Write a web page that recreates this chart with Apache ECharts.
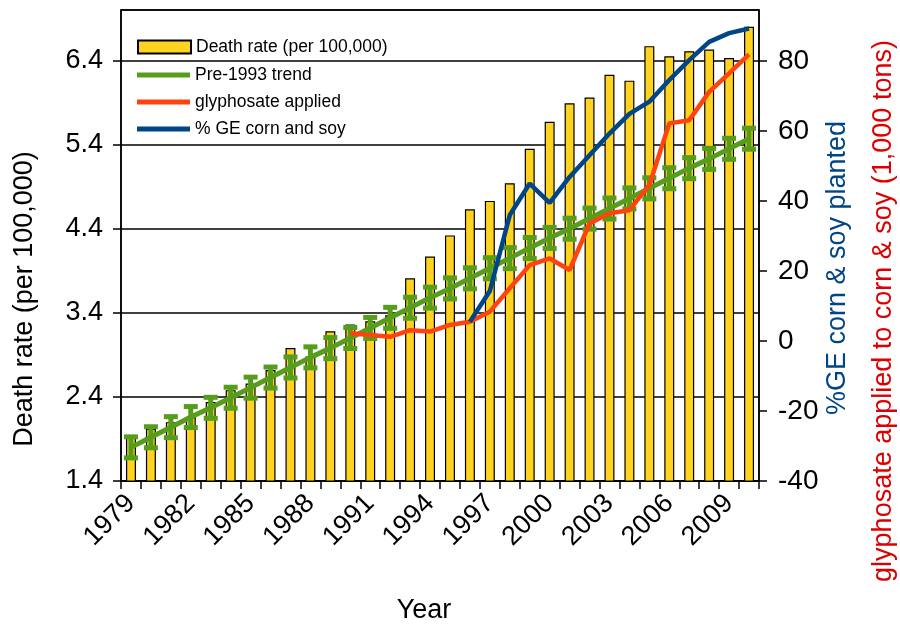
<!DOCTYPE html>
<html>
<head>
<meta charset="utf-8">
<script src="https://cdn.jsdelivr.net/npm/echarts@6/dist/echarts.min.js"></script>
<style>html,body{margin:0;padding:0;background:#fff}#c{width:900px;height:628px}</style>
</head>
<body>
<div id="c"></div>
<script>
const years = ['1979','1980','1981','1982','1983','1984','1985','1986','1987','1988','1989','1990','1991','1992','1993','1994','1995','1996','1997','1998','1999','2000','2001','2002','2003','2004','2005','2006','2007','2008','2009','2010'];
const deathRate = [1.93,2.02,2.10,2.16,2.34,2.48,2.56,2.72,2.98,2.88,3.18,3.26,3.30,3.37,3.81,4.07,4.32,4.63,4.73,4.94,5.35,5.67,5.89,5.96,6.23,6.16,6.57,6.45,6.51,6.53,6.43,6.80];
const trend = [1.80,1.92,2.04,2.16,2.27,2.39,2.51,2.63,2.75,2.87,2.98,3.10,3.22,3.34,3.46,3.58,3.69,3.81,3.93,4.05,4.17,4.29,4.40,4.52,4.64,4.76,4.88,5.00,5.12,5.23,5.35,5.47];
const trendErr = [0.125,0.125,0.125,0.125,0.125,0.125,0.125,0.125,0.125,0.125,0.125,0.125,0.125,0.125,0.125,0.125,0.125,0.125,0.125,0.125,0.125,0.125,0.125,0.125,0.125,0.125,0.125,0.125,0.125,0.125,0.125,0.125];
const glyphosate = [null,null,null,null,null,null,null,null,null,null,null,2.2,1.7,1.2,3.1,2.7,4.6,5.5,8.4,15.1,21.7,23.6,20.3,33.6,36.5,37.4,44.6,62.2,63.1,71.2,76.5,81.9];
const geCornSoy = [null,null,null,null,null,null,null,null,null,null,null,null,null,null,null,null,null,5.5,14.3,36.0,45.0,39.5,46.9,53.1,59.3,64.9,68.4,74.6,80.3,85.5,88.0,89.3];

const FONT = 'Liberation Sans, Arial, sans-serif';
const chart = echarts.init(document.getElementById('c'));
const errData = trend.map((v, i) => [i, v - trendErr[i], v + trendErr[i]]);

chart.setOption({
  animation: false,
  textStyle: { fontFamily: FONT },
  grid: { left: 121, right: 141, top: 10, bottom: 147, show: true, borderColor: '#000', borderWidth: 1.5 },
  legend: [
    { data: ['Death rate (per 100,000)'], orient: 'vertical', left: 132, top: 33, icon: 'rect', itemWidth: 53, itemHeight: 13,
      textStyle: { fontSize: 17.5, color: '#000', fontFamily: FONT } },
    { data: ['Pre-1993 trend', 'glyphosate applied', '% GE corn and soy'], orient: 'vertical', left: 132, top: 61,
      icon: 'rect', itemWidth: 53, itemHeight: 5, itemGap: 9,
      textStyle: { fontSize: 17.5, color: '#000', fontFamily: FONT } }
  ],
  xAxis: {
    type: 'category', data: years, boundaryGap: true,
    axisLine: { onZero: false, lineStyle: { color: '#000', width: 1.5 } },
    axisTick: { show: true, interval: 0, length: 8, lineStyle: { color: '#000', width: 1.5 } },
    axisLabel: { interval: 2, rotate: 45, fontSize: 27, color: '#000', margin: 18, fontFamily: FONT },
    splitLine: { show: false }
  },
  yAxis: [
    { type: 'value', min: 1.4, max: 7.0, interval: 1, position: 'left',
      axisLine: { show: true, lineStyle: { color: '#000', width: 1.5 } },
      axisTick: { show: true, length: 8, lineStyle: { color: '#000', width: 1.5 } },
      axisLabel: { fontSize: 27, color: '#000', margin: 18, showMaxLabel: false, formatter: v => v.toFixed(1), fontFamily: FONT },
      splitLine: { show: true, lineStyle: { color: '#000', width: 1.5 } } },
    { type: 'value', min: -40, max: 94.6, interval: 20, position: 'right',
      axisLine: { show: true, lineStyle: { color: '#000', width: 1.5 } },
      axisTick: { show: true, length: 8, lineStyle: { color: '#000', width: 1.5 } },
      axisLabel: { fontSize: 28, color: '#000', margin: 19, showMaxLabel: false, fontFamily: FONT },
      splitLine: { show: false } }
  ],
  graphic: [
    { type: 'text', x: 25, y: 299, rotation: Math.PI / 2, style: { text: 'Death rate (per 100,000)', font: '27px ' + FONT, fill: '#000', textAlign: 'center', textVerticalAlign: 'middle' } },
    { type: 'text', x: 424, y: 611, style: { text: 'Year', font: '27px ' + FONT, fill: '#000', textAlign: 'center', textVerticalAlign: 'middle' } },
    { type: 'text', x: 838, y: 268, rotation: Math.PI / 2, style: { text: '%GE corn & soy planted', font: '27px ' + FONT, fill: '#004586', textAlign: 'center', textVerticalAlign: 'middle' } },
    { type: 'text', x: 884, y: 311, rotation: Math.PI / 2, style: { text: 'glyphosate applied to corn & soy (1,000 tons)', font: '27px ' + FONT, fill: '#dd0000', textAlign: 'center', textVerticalAlign: 'middle' } }
  ],
  series: [
    { name: 'Death rate (per 100,000)', type: 'bar', yAxisIndex: 0, data: deathRate, barWidth: '50%',
      itemStyle: { color: '#ffd320', borderColor: '#000', borderWidth: 1.2 }, z: 1 },
    { name: 'Pre-1993 trend', type: 'line', yAxisIndex: 0, data: trend, symbol: 'none',
      lineStyle: { color: '#579d1c', width: 5 }, itemStyle: { color: '#579d1c' }, z: 3 },
    { name: 'Pre-1993 trend err', type: 'custom', yAxisIndex: 0, data: errData, z: 4,
      renderItem: function (params, api) {
        const x = api.value(0);
        const lo = api.coord([x, api.value(1)]);
        const hi = api.coord([x, api.value(2)]);
        const hw = 7;
        const st = { stroke: '#579d1c', lineWidth: 5 };
        return { type: 'group', children: [
          { type: 'line', shape: { x1: lo[0], y1: lo[1], x2: hi[0], y2: hi[1] }, style: st },
          { type: 'line', shape: { x1: lo[0] - hw, y1: lo[1], x2: lo[0] + hw, y2: lo[1] }, style: st },
          { type: 'line', shape: { x1: hi[0] - hw, y1: hi[1], x2: hi[0] + hw, y2: hi[1] }, style: st }
        ] };
      } },
    { name: 'glyphosate applied', type: 'line', yAxisIndex: 1, data: glyphosate, symbol: 'none',
      lineStyle: { color: '#ff420e', width: 4.5 }, itemStyle: { color: '#ff420e' }, z: 5 },
    { name: '% GE corn and soy', type: 'line', yAxisIndex: 1, data: geCornSoy, symbol: 'none',
      lineStyle: { color: '#004586', width: 4.5 }, itemStyle: { color: '#004586' }, z: 6 }
  ]
});
</script>
</body>
</html>
